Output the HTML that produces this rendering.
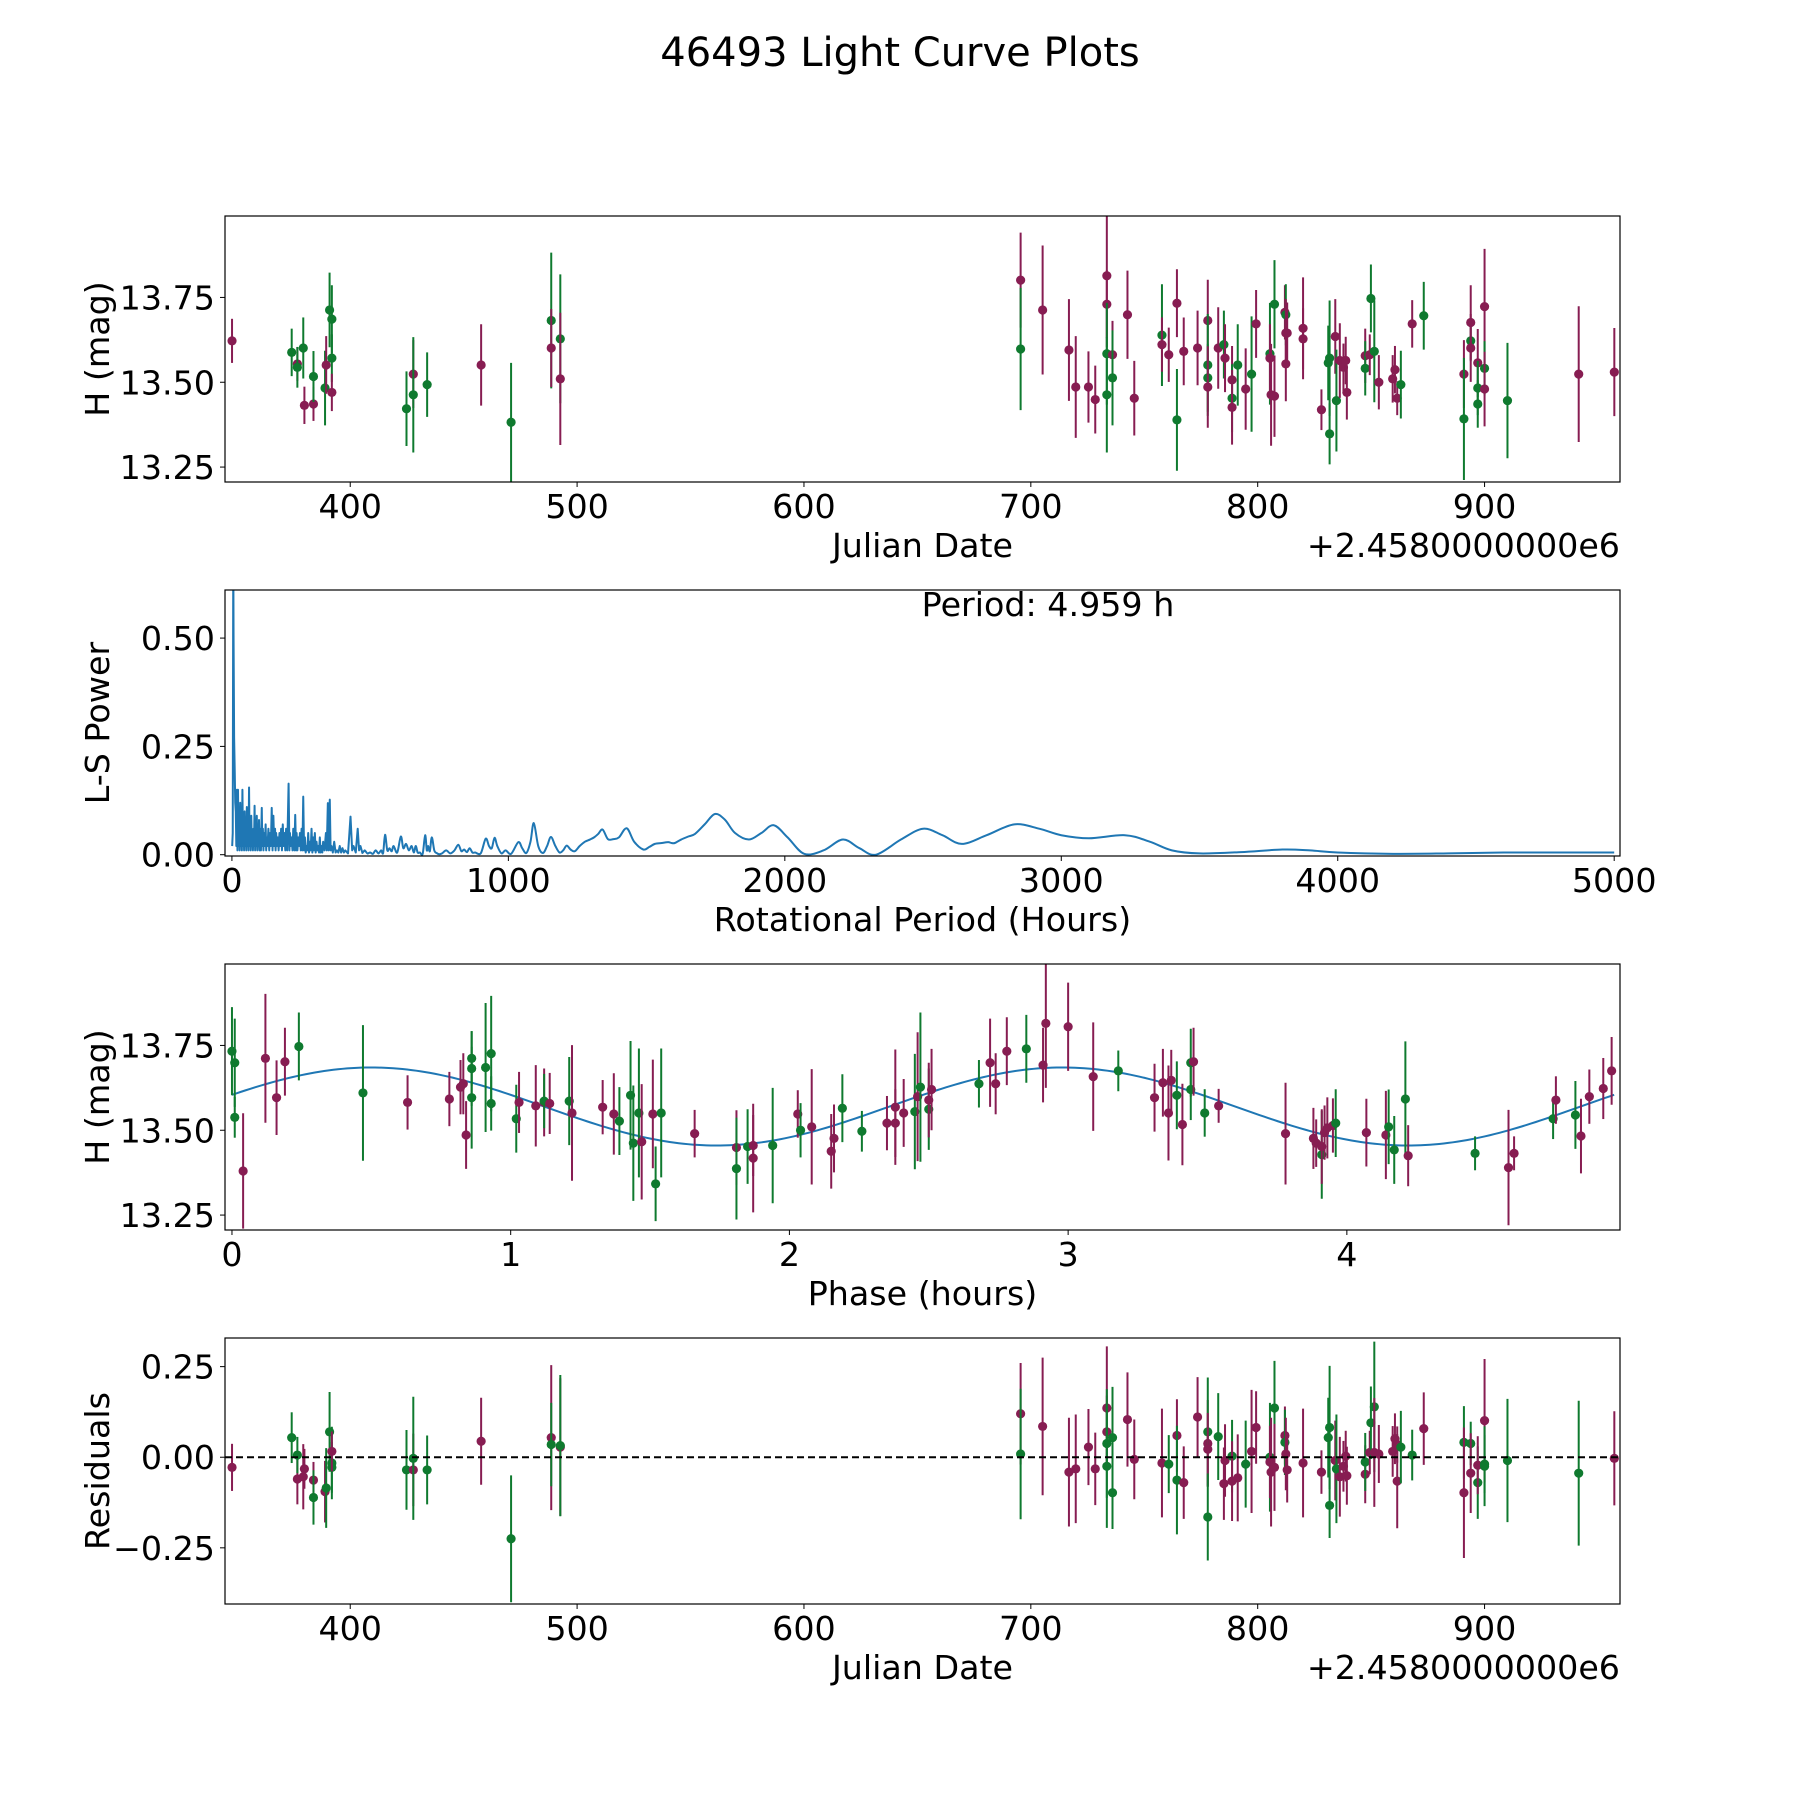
<!DOCTYPE html>
<html><head><meta charset="utf-8"><style>
html,body{margin:0;padding:0;background:#fff;}
svg{display:block;font-family:"DejaVu Sans","Liberation Sans",sans-serif;}
</style></head><body>
<svg id="fig" width="1800" height="1800" viewBox="0 0 1800 1800" xmlns="http://www.w3.org/2000/svg">
<rect width="1800" height="1800" fill="#fff"/>
<text x="900" y="66" font-size="40" text-anchor="middle">46493 Light Curve Plots</text>
</svg>
<script>
// ---- Panel 1: magnitude vs Julian date ----
const p1JD=[347.9,374.2,376.7,376.7,379.3,379.8,383.8,383.8,388.9,389.4,390.9,391.9,391.9,391.9,424.8,427.8,427.8,433.9,457.7,470.9,488.6,488.6,492.6,492.6,
695.5,695.5,705.2,716.8,719.8,725.4,728.4,733.5,733.5,733.5,733.5,736.0,736.0,742.6,745.6,757.8,757.8,760.8,764.4,764.4,767.4,773.5,778.0,778.0,778.0,778.0,782.6,785.1,785.6,788.7,788.7,788.7,791.2,794.7,797.3,799.3,805.4,805.4,805.9,807.4,807.4,812.0,812.4,812.4,812.4,813.0,820.0,820.0,828.1,831.1,831.7,831.7,834.2,834.7,836.2,837.8,838.8,839.3,847.4,847.4,849.4,849.9,851.4,853.4,859.5,860.5,861.5,863.1,868.1,873.2,890.9,890.9,893.9,893.9,893.9,897.0,897.0,897.0,900.0,900.0,900.0,910.1,941.5,957.2];
const p1Mag=[13.622,13.588,13.554,13.544,13.601,13.432,13.436,13.517,13.483,13.551,13.713,13.686,13.571,13.470,13.422,13.524,13.463,13.493,13.551,13.382,13.682,13.601,13.628,13.510,
13.801,13.598,13.713,13.595,13.486,13.486,13.449,13.814,13.730,13.584,13.463,13.581,13.513,13.699,13.453,13.639,13.611,13.581,13.733,13.389,13.591,13.601,13.682,13.551,13.513,13.486,13.601,13.611,13.571,13.507,13.453,13.426,13.551,13.480,13.524,13.672,13.584,13.571,13.463,13.730,13.459,13.706,13.699,13.645,13.554,13.645,13.659,13.628,13.419,13.557,13.571,13.348,13.635,13.446,13.564,13.544,13.564,13.470,13.578,13.541,13.581,13.747,13.591,13.500,13.510,13.537,13.453,13.493,13.672,13.696,13.524,13.392,13.622,13.676,13.601,13.557,13.436,13.483,13.723,13.541,13.480,13.446,13.524,13.530];
const p1Err=[.065,.07,.05,.06,.09,.055,.05,.075,.11,.085,.11,.10,.07,.055,.11,.10,.17,.095,.12,.175,.20,.115,.19,.195,
.14,.18,.19,.15,.15,.105,.10,.21,.10,.15,.17,.10,.14,.13,.11,.15,.08,.08,.10,.15,.10,.11,.12,.15,.10,.12,.12,.10,.10,.10,.10,.11,.12,.12,.17,.10,.15,.10,.15,.13,.12,.08,.09,.10,.11,.09,.15,.09,.06,.11,.17,.09,.11,.15,.11,.07,.07,.08,.08,.08,.06,.10,.15,.08,.07,.07,.05,.10,.07,.10,.10,.18,.06,.11,.10,.10,.07,.08,.17,.08,.11,.17,.20,.13];
const p1Band="mgmggmmggmgggmgmggmggmgmmgmmmmmmmggmgmmgmmmgmmmggmmgmmgmgmgmgmmgmmgmmmmmmgggmgmmmmmgmggmmmmgmgmggmmmggmgmgmmm";

// ---- Panel 2: Lomb-Scargle periodogram ----
const lsPeriod=[1,3,4.96,6,8,10,12,14,16,18,20,22,24,26,28,30,32,34,36,38,40,42,44,46,48,50,52,54,56,58,60,62,64,66,68,70,72,74,76,78,80,82,84,86,88,90,92,94,96,98,100,102,105,108,110,112,114,116,119,122,124,126,129,132,135,138,141,144,147,150,153,156,158,160,163,166,169,172,175,178,181,184,187,190,193,196,200,205,208,210,213,216,219,222,226,229,232,234,237,240,243,246,249,252,255,258,261,264,267,270,273,276,279,282,285,288,291,294,297,300,303,306,309,312,315,318,321,324,327,330,335,340,343,347,350,354,357,360,365,370,375,380,385,390,395,400,405,410,420,429,435,440,448,455,460,465,472,480,490,500,510,520,530,540,547,554,562,570,578,585,598,611,620,630,640,650,658,665,672,680,690,699,705,710,716,723,732,740,750,760,775,790,805,819,830,840,850,860,870,880,900,918,930,940,950,960,975,990,1010,1036,1050,1065,1080,1092,1108,1125,1140,1154,1170,1185,1198,1211,1225,1240,1258,1277,1295,1310,1325,1341,1360,1380,1400,1428,1455,1488,1510,1530,1555,1578,1590,1602,1625,1651,1675,1710,1747,1783,1820,1870,1915,1960,2010,2070,2140,2210,2270,2330,2420,2500,2570,2640,2730,2830,2920,3000,3100,3230,3320,3400,3500,3650,3800,3900,4000,4200,4400,4600,4800,5000];
const lsPower=[0.02,0.05,0.7,0.5,0.27,0.2,0.12,0.10,0.02,0.15,0.01,0.15,0.02,0.08,0.01,0.12,0.02,0.06,0.01,0.15,0.02,0.09,0.01,0.10,0.02,0.07,0.01,0.11,0.02,0.06,0.01,0.155,0.02,0.08,0.01,0.09,0.02,0.05,0.01,0.06,0.02,0.113,0.01,0.07,0.02,0.09,0.01,0.05,0.02,0.08,0.01,0.06,0.01,0.108,0.02,0.06,0.01,0.05,0.02,0.07,0.01,0.04,0.02,0.06,0.01,0.05,0.02,0.108,0.01,0.09,0.02,0.06,0.01,0.05,0.02,0.04,0.01,0.05,0.02,0.06,0.01,0.07,0.02,0.05,0.01,0.06,0.01,0.164,0.01,0.05,0.02,0.04,0.01,0.06,0.01,0.092,0.01,0.05,0.01,0.04,0.02,0.05,0.01,0.06,0.01,0.134,0.01,0.04,0.005,0.02,0.01,0.05,0.005,0.03,0.01,0.06,0.005,0.04,0.01,0.05,0.005,0.03,0.01,0.02,0.005,0.04,0.005,0.02,0.005,0.03,0.01,0.05,0.01,0.119,0.01,0.127,0.01,0.02,0.005,0.03,0.005,0.01,0.005,0.02,0.005,0.015,0.005,0.01,0.003,0.088,0.01,0.02,0.005,0.06,0.01,0.02,0.004,0.01,0.003,0.005,0.002,0.01,0.003,0.01,0.004,0.046,0.01,0.015,0.008,0.02,0.005,0.042,0.015,0.025,0.01,0.02,0.005,0.02,0.005,0.005,0.002,0.045,0.01,0.02,0.008,0.04,0.01,0.004,0.001,0.003,0.01,0.003,0.01,0.023,0.008,0.012,0.006,0.015,0.005,0.005,0.003,0.037,0.02,0.015,0.039,0.02,0.003,0.01,0.002,0.029,0.015,0.004,0.03,0.073,0.02,0.004,0.02,0.041,0.02,0.005,0.01,0.021,0.012,0.008,0.02,0.03,0.035,0.04,0.048,0.058,0.036,0.036,0.040,0.061,0.03,0.012,0.018,0.025,0.027,0.029,0.027,0.027,0.035,0.042,0.048,0.07,0.094,0.081,0.05,0.035,0.05,0.068,0.04,0.002,0.01,0.035,0.015,0.0,0.035,0.06,0.045,0.025,0.045,0.07,0.06,0.045,0.038,0.045,0.03,0.01,0.003,0.006,0.012,0.01,0.005,0.002,0.003,0.005,0.005,0.005];
const periodLabel="Period: 4.959 h";

// ---- Panel 3: phase-folded ----
const phPhase=[0.00,0.01,0.01,0.04,0.12,0.16,0.19,0.24,0.47,0.63,0.78,0.82,0.83,0.84,0.86,0.86,0.86,0.91,0.93,0.93,1.02,1.03,1.09,1.12,1.12,1.14,1.21,1.22,1.33,1.37,1.39,1.43,1.44,1.46,1.47,1.51,1.52,1.54,1.66,1.81,1.81,1.85,1.87,1.87,1.94,2.03,2.04,2.08,2.15,2.16,2.19,2.26,2.35,2.38,2.38,2.41,2.45,2.46,2.47,2.50,2.50,2.51,2.68,2.72,2.74,2.78,2.85,2.91,2.92,3.00,3.09,3.18,3.31,3.34,3.36,3.37,3.39,3.41,3.44,3.44,3.45,3.49,3.54,3.78,3.88,3.89,3.91,3.91,3.92,3.93,3.95,3.96,4.07,4.14,4.15,4.17,4.21,4.22,4.46,4.58,4.60,4.74,4.75,4.82,4.84,4.87,4.92,4.95];
const phMag=[13.733,13.538,13.699,13.380,13.712,13.596,13.702,13.747,13.610,13.582,13.592,13.627,13.637,13.486,13.596,13.682,13.712,13.685,13.579,13.726,13.534,13.582,13.572,13.582,13.586,13.579,13.586,13.551,13.568,13.548,13.527,13.603,13.462,13.551,13.466,13.548,13.342,13.551,13.490,13.449,13.387,13.452,13.455,13.418,13.455,13.548,13.500,13.510,13.438,13.476,13.565,13.497,13.521,13.521,13.568,13.551,13.555,13.599,13.627,13.562,13.589,13.620,13.637,13.699,13.637,13.733,13.740,13.692,13.815,13.805,13.658,13.675,13.596,13.640,13.551,13.647,13.603,13.517,13.620,13.699,13.702,13.551,13.572,13.490,13.476,13.462,13.428,13.452,13.493,13.507,13.514,13.521,13.493,13.486,13.510,13.442,13.592,13.425,13.432,13.390,13.432,13.534,13.589,13.545,13.483,13.599,13.623,13.675];
const phErr=[.13,.06,.13,.17,.19,.11,.10,.10,.20,.08,.08,.08,.09,.10,.15,.11,.08,.19,.08,.17,.10,.09,.12,.10,.08,.09,.13,.20,.08,.12,.10,.16,.17,.19,.17,.16,.11,.19,.07,.11,.15,.11,.09,.16,.17,.07,.08,.17,.11,.10,.10,.06,.08,.10,.17,.10,.17,.19,.22,.12,.11,.12,.07,.13,.09,.10,.10,.11,.19,.13,.16,.06,.10,.10,.14,.09,.10,.12,.09,.10,.10,.07,.05,.15,.09,.07,.13,.11,.08,.09,.08,.10,.10,.13,.11,.10,.17,.09,.05,.17,.05,.06,.07,.10,.11,.08,.09,.10];
const phBand="gggmmmmggmmmmmgggggggmmmgmgmmmggggmmggmmggmmgmgmmmggmmmmgmggmmgmmmgmmmmgmmmmgmggmgmmmmgmmmmgmmgggmgmmgmgmmm";
const fitPeriod=4.959, fitMean=13.57, fitAmp=0.115, fitPeakPhase=0.5;

// ---- Panel 4: residuals ----
const rsJD=[347.9,374.2,376.7,376.7,379.3,379.8,383.8,383.8,388.9,389.4,390.9,391.9,391.9,391.9,424.8,427.8,427.8,433.9,457.7,470.9,488.6,488.6,492.6,492.6,
695.5,695.5,705.2,716.8,719.8,725.4,728.4,733.5,733.5,733.5,733.5,736.0,736.0,742.6,745.6,757.8,760.8,764.4,764.4,767.4,773.5,778.0,778.0,778.0,778.0,782.6,785.1,785.6,788.7,788.7,791.2,794.7,797.3,799.3,805.4,805.4,805.9,807.4,807.4,812.0,812.0,812.4,813.0,820.0,828.1,831.1,831.7,831.7,834.2,834.7,836.2,837.8,838.8,839.3,847.4,847.4,849.4,849.9,851.4,851.4,853.4,859.5,860.5,861.5,861.5,863.1,868.1,873.2,890.9,890.9,893.9,893.9,897.0,897.0,900.0,900.0,900.0,910.1,941.5,957.2];
const rsVal=[-0.028,0.054,-0.060,0.006,-0.054,-0.032,-0.063,-0.111,-0.095,-0.085,0.070,-0.016,-0.028,0.016,-0.035,-0.035,-0.003,-0.035,0.044,-0.225,0.054,0.035,0.028,0.032,
0.120,0.009,0.085,-0.041,-0.032,0.028,-0.032,0.136,0.070,0.038,-0.025,0.054,-0.098,0.104,-0.006,-0.016,-0.019,0.060,-0.063,-0.070,0.111,0.038,0.070,0.022,-0.165,0.057,-0.073,-0.009,0.003,-0.066,-0.057,-0.019,0.016,0.082,0.0,-0.013,-0.041,0.136,-0.028,0.060,0.041,0.009,-0.035,-0.016,-0.041,0.054,0.082,-0.133,-0.009,-0.032,-0.054,-0.025,0.003,-0.051,-0.047,-0.013,0.013,0.095,0.139,0.013,0.009,0.016,0.051,0.035,-0.066,0.028,0.006,0.079,0.041,-0.098,0.038,-0.044,-0.070,-0.022,-0.019,0.101,-0.025,-0.009,-0.044,-0.003];
const rsErr=[.065,.07,.07,.05,.09,.055,.05,.075,.085,.11,.11,.10,.07,.055,.11,.10,.17,.095,.12,.175,.20,.115,.19,.195,
.14,.18,.19,.15,.15,.105,.10,.17,.10,.15,.17,.14,.10,.13,.11,.15,.08,.10,.15,.10,.11,.12,.15,.10,.12,.12,.10,.10,.10,.11,.12,.12,.17,.10,.15,.10,.15,.13,.12,.08,.09,.10,.09,.15,.06,.11,.17,.09,.11,.15,.11,.07,.07,.08,.08,.08,.06,.10,.18,.15,.08,.07,.07,.05,.13,.10,.07,.10,.10,.18,.06,.11,.10,.08,.08,.17,.11,.17,.20,.13];
const rsBand="mgmgmmmgmggggmgmggmgmgmgmgmmmmmmmggggmmmgmgmmmgmggmmgmmgmmgmmgmmgmmmmgggmgmmmmmgmggmmmmmmggmgmgmgmgmgggmmm";

const NS="http://www.w3.org/2000/svg";
const svg=document.getElementById('fig');
const COL={m:'#871d52',g:'#0f7a2f'};
const L=225,R=1620,H=266,FS=33.3;
function el(tag,attrs,parent){const e=document.createElementNS(NS,tag);for(const k in attrs)e.setAttribute(k,attrs[k]);(parent||svg).appendChild(e);return e;}
function lin(d0,d1,r0,r1){return v=>r0+(v-d0)*(r1-r0)/(d1-d0);}
function fmt(v,dec){let s=v.toFixed(dec);if(v<0)s='\u2212'+s.slice(1);return s;}

function makeAxes(name,top,xd,yd,xticks,xdec,yticks,ydec,xlabel,ylabel,ylabX){
  const g=el('g',{});
  
  
  const x=lin(xd[0],xd[1],L,R), y=lin(yd[0],yd[1],top+H,top);
  const clipId=name+'-clip';
  const cp=el('clipPath',{id:clipId},g);el('rect',{x:L,y:top,width:R-L,height:H},cp);
  const plot=el('g',{'clip-path':'url(#'+clipId+')'},g);
  
  
  const xg=el('g',{},g);
  
  
  xticks.forEach(t=>{const px=x(t);el('line',{x1:px,x2:px,y1:top+H,y2:top+H+5,stroke:'#000','stroke-width':1},xg);
    const tx=el('text',{x:px,y:top+H+36,'font-size':FS,'text-anchor':'middle'},xg);tx.textContent=fmt(t,xdec);
    
    });
  const yg=el('g',{},g);
  
  
  yticks.forEach(t=>{const py=y(t);el('line',{x1:L-5,x2:L,y1:py,y2:py,stroke:'#000','stroke-width':1},yg);
    const tx=el('text',{x:L-10,y:py+12,'font-size':FS,'text-anchor':'end'},yg);tx.textContent=fmt(t,ydec);
    
    });
  const xl=el('text',{x:(L+R)/2,y:top+H+75,'font-size':FS,'text-anchor':'middle'},g);xl.textContent=xlabel;
  
  
  const yl=el('text',{x:0,y:0,'font-size':FS,'text-anchor':'middle',transform:`translate(${ylabX},${top+H/2}) rotate(-90)`},g);yl.textContent=ylabel;
  
  
  return {g,plot,x,y,top,finish(){const f=el('rect',{x:L,y:top,width:R-L,height:H,fill:'none',stroke:'#000','stroke-width':1.2},g);
    
    }};
}
function errPoints(ax,xs,ys,es,bands){
  for(let i=0;i<xs.length;i++){
    const c=COL[bands[i]]||COL.m, px=ax.x(xs[i]);
    const pt=el('g',{},ax.plot);
    
    
    el('line',{x1:px,x2:px,y1:ax.y(ys[i]-es[i]),y2:ax.y(ys[i]+es[i]),stroke:c,'stroke-width':2},pt);
    el('circle',{cx:px,cy:ax.y(ys[i]),r:4.6,fill:c},pt);
  }
}

// Panel 1
const a1=makeAxes('lightcurve-panel',216,[344.8,959.7],[13.206,13.99],[400,500,600,700,800,900],0,[13.25,13.5,13.75],2,'Julian Date','H (mag)',109);
errPoints(a1,p1JD,p1Mag,p1Err,p1Band);
a1.finish();
let off=el('text',{x:R,y:557,'font-size':FS,'text-anchor':'end'});off.textContent='+2.4580000000e6';



// Panel 2
const a2=makeAxes('periodogram-panel',590,[-25,5021],[-0.003,0.611],[0,1000,2000,3000,4000,5000],0,[0,0.25,0.5],2,'Rotational Period (Hours)','L-S Power',109);
(function(){
 const pts=lsPeriod.map((p,i)=>[a2.x(p),a2.y(lsPower[i])]);
 let d='M'+pts[0][0].toFixed(2)+','+pts[0][1].toFixed(2);
 for(let i=1;i<pts.length;i++){
   if(lsPeriod[i]<=480){d+='L'+pts[i][0].toFixed(2)+','+pts[i][1].toFixed(2);continue;}
   const p0=pts[i-2]||pts[i-1],p1=pts[i-1],p2=pts[i],p3=pts[i+1]||pts[i];
   const c1=[p1[0]+(p2[0]-p0[0])/6,p1[1]+(p2[1]-p0[1])/6],c2=[p2[0]-(p3[0]-p1[0])/6,p2[1]-(p3[1]-p1[1])/6];
   d+='C'+c1[0].toFixed(2)+','+c1[1].toFixed(2)+' '+c2[0].toFixed(2)+','+c2[1].toFixed(2)+' '+p2[0].toFixed(2)+','+p2[1].toFixed(2);
 }
 const p=el('path',{d,fill:'none',stroke:'#1f77b4','stroke-width':2,'stroke-linejoin':'round'},a2.plot);
 
 })();
a2.finish();
let pl=el('text',{x:1048,y:616,'font-size':FS,'text-anchor':'middle'});pl.textContent=periodLabel;



// Panel 3
const a3=makeAxes('phase-panel',964,[-0.025,4.98],[13.206,13.99],[0,1,2,3,4],0,[13.25,13.5,13.75],2,'Phase (hours)','H (mag)',109);
(function(){let d='';for(let i=0;i<=300;i++){const ph=i/300*fitPeriod;const v=fitMean+fitAmp*Math.cos(2*Math.PI*(ph-fitPeakPhase)/(fitPeriod/2));
 d+=(i?'L':'M')+a3.x(ph).toFixed(2)+','+a3.y(v).toFixed(2);}
 const p=el('path',{d,fill:'none',stroke:'#1f77b4','stroke-width':2},a3.plot);
 
 })();
errPoints(a3,phPhase,phMag,phErr,phBand);
a3.finish();

// Panel 4
const a4=makeAxes('residuals-panel',1338,[344.8,959.7],[-0.405,0.329],[400,500,600,700,800,900],0,[-0.25,0,0.25],2,'Julian Date','Residuals',109);
errPoints(a4,rsJD,rsVal,rsErr,rsBand);
(function(){const z=el('line',{x1:L,x2:R,y1:a4.y(0),y2:a4.y(0),stroke:'#000','stroke-width':2,'stroke-dasharray':'7,4'},a4.plot);
 
 })();
a4.finish();
off=el('text',{x:R,y:1338+H+75,'font-size':FS,'text-anchor':'end'});
off.textContent='+2.4580000000e6';


</script>
</body></html>
